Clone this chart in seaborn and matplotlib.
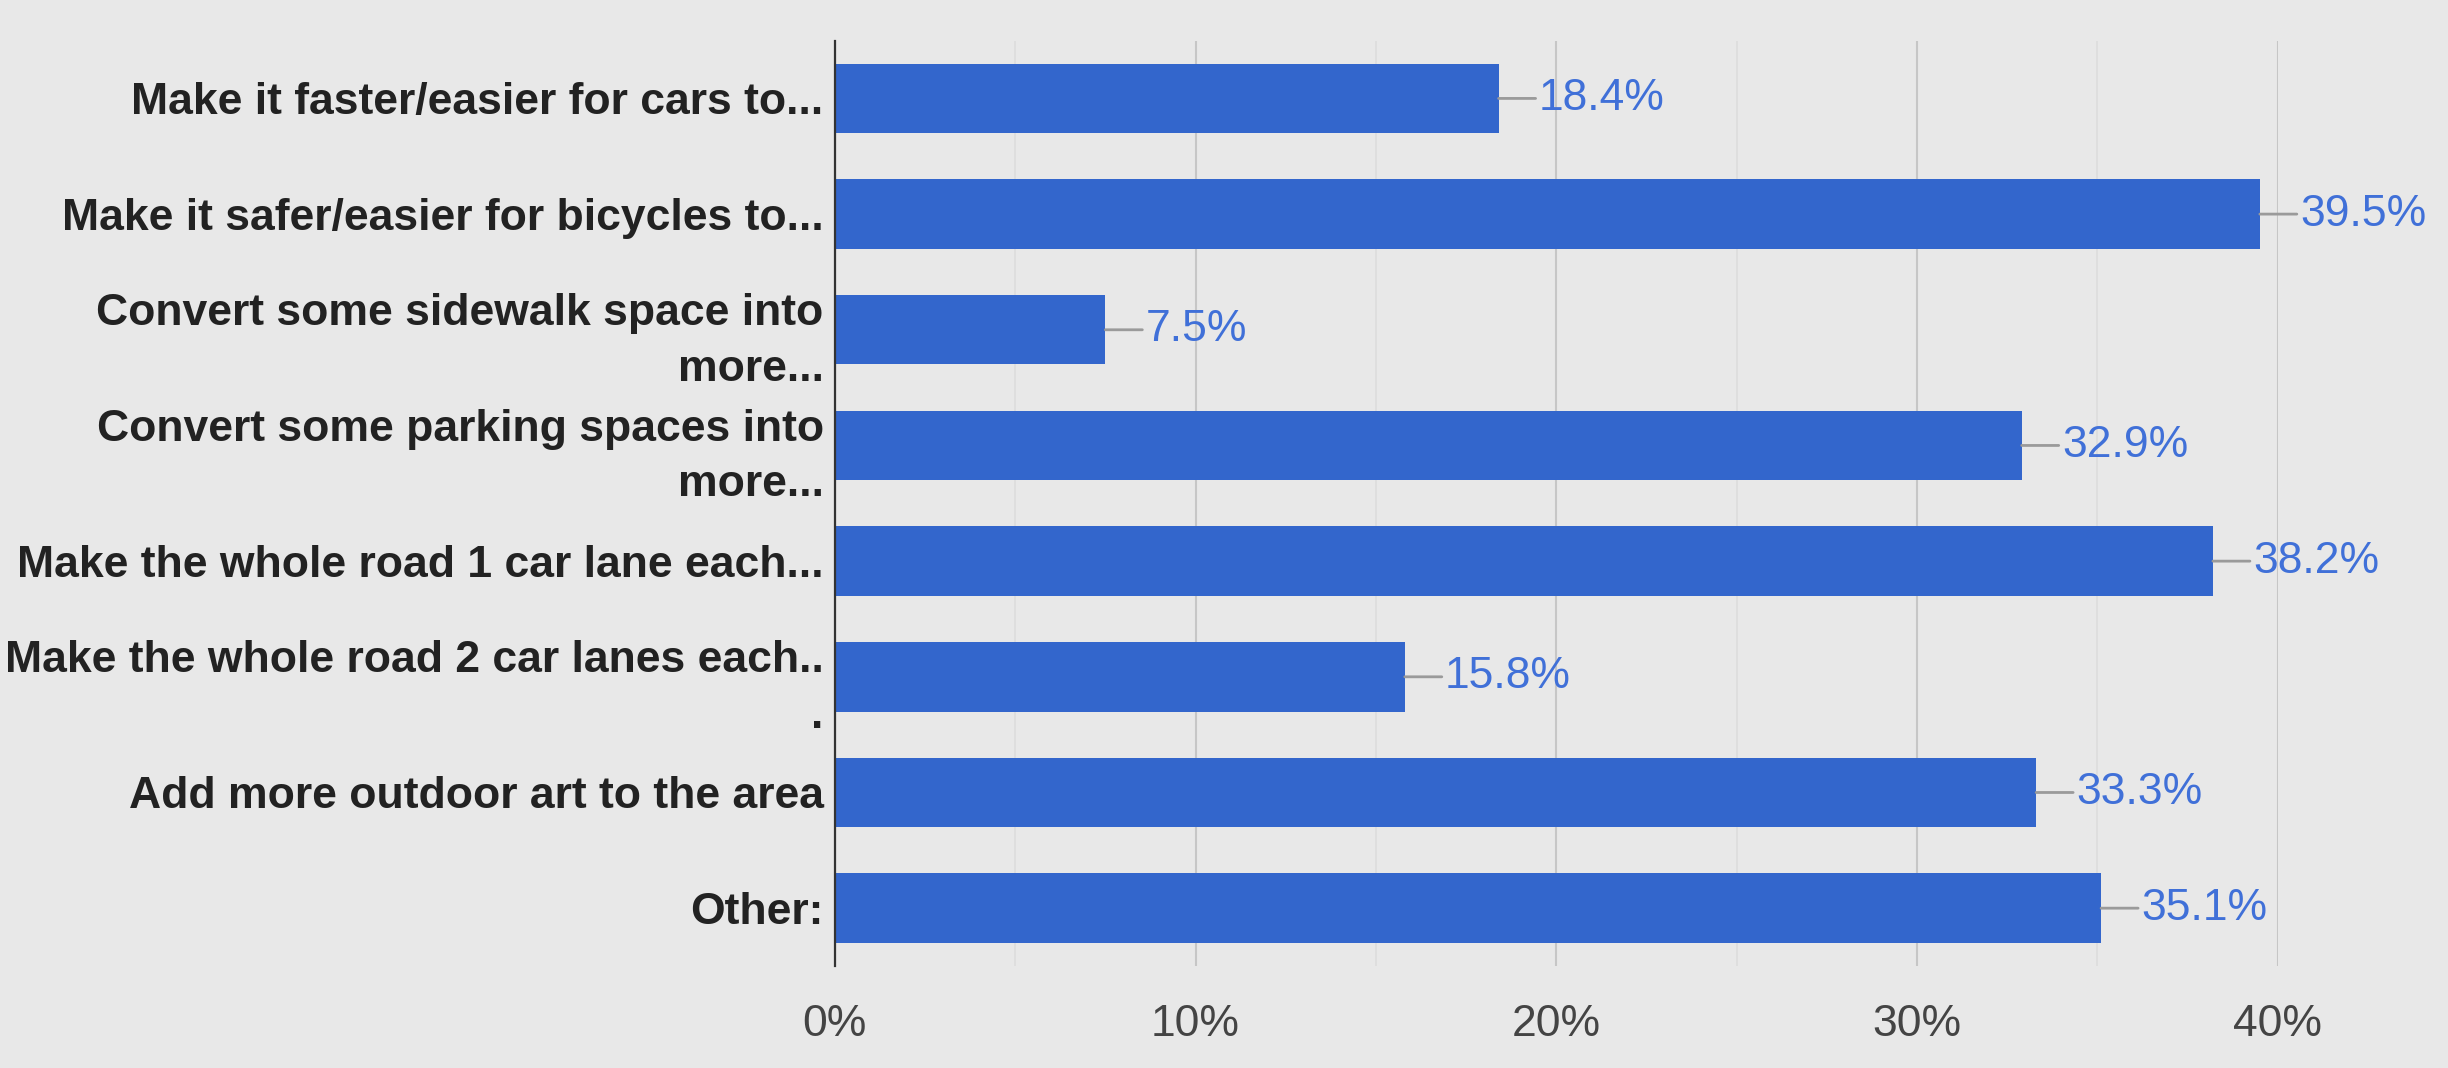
import numpy as np
import pandas as pd
import matplotlib
matplotlib.use('Agg')
import matplotlib.pyplot as plt
import seaborn as sns
from matplotlib.ticker import MultipleLocator, PercentFormatter

"""horizontal bar chart of survey answers, google forms style"""

answers = ['Make it faster/easier for cars to...',
           'Make it safer/easier for bicycles to...',
           'Convert some sidewalk space into\nmore...',
           'Convert some parking spaces into\nmore...',
           'Make the whole road 1 car lane each...',
           'Make the whole road 2 car lanes each..\n.',
           'Add more outdoor art to the area',
           'Other:']
share = [0.184, 0.395, 0.075, 0.329, 0.382, 0.158, 0.333, 0.351]
value_labels = ['18.4%', '39.5%', '7.5%', '32.9%', '38.2%', '15.8%', '33.3%', '35.1%']

bg = '#e8e8e8'
bar_color = '#3366cc'
label_color = '#4070d8'


def main():
    df = pd.DataFrame({'answer': answers, 'share': share})
    plot_data(df)


def plot_data(df):
    sns.set_style('white', {'axes.facecolor': bg, 'figure.facecolor': bg})
    plt.rcParams['font.family'] = ['Liberation Sans', 'DejaVu Sans']

    fig = plt.figure(figsize=(24.48, 10.68), dpi=100)
    ax = fig.add_axes([0.341, 0.0955, 0.9305 - 0.341, 0.962 - 0.0955])

    sns.barplot(data=df, y='answer', x='share', orient='h', color=bar_color,
                saturation=1, width=0.6, linewidth=0, edgecolor='none', ax=ax)

    ax.set_xlim(0, 0.40)
    ax.set_ylim(len(answers) - 0.5, -0.5)
    ax.xaxis.set_major_locator(MultipleLocator(0.1))
    ax.xaxis.set_minor_locator(MultipleLocator(0.05))
    ax.xaxis.set_major_formatter(PercentFormatter(1.0, decimals=0))
    ax.grid(axis='x', which='major', color='#c6c6c6', lw=1.5)
    ax.grid(axis='x', which='minor', color='#dcdcdc', lw=1.2)
    ax.set_axisbelow(True)

    for side in ['top', 'right', 'bottom']:
        ax.spines[side].set_visible(False)
    ax.spines['left'].set_color('#333333')
    ax.spines['left'].set_linewidth(1.6)

    ax.set_xlabel('')
    ax.set_ylabel('')
    ax.tick_params(axis='y', length=0, pad=8, labelsize=32, labelcolor='#222222')
    ax.tick_params(axis='x', which='both', length=0, pad=27, labelsize=32, labelcolor='#444444')
    for t in ax.get_yticklabels():
        t.set_fontweight('bold')
        t.set_linespacing(1.45)

    # value labels with short gray leader line
    for i, (v, txt) in enumerate(zip(share, value_labels)):
        ax.annotate(txt, xy=(v, i), xytext=(29, 0), textcoords='offset points',
                    ha='left', va='center', fontsize=32, color=label_color,
                    annotation_clip=False,
                    arrowprops=dict(arrowstyle='-', color='#9a9a9a', lw=2,
                                    shrinkA=0, shrinkB=0))

    fig.savefig('out.png', dpi=100, facecolor=bg)
    plt.close()


main()
